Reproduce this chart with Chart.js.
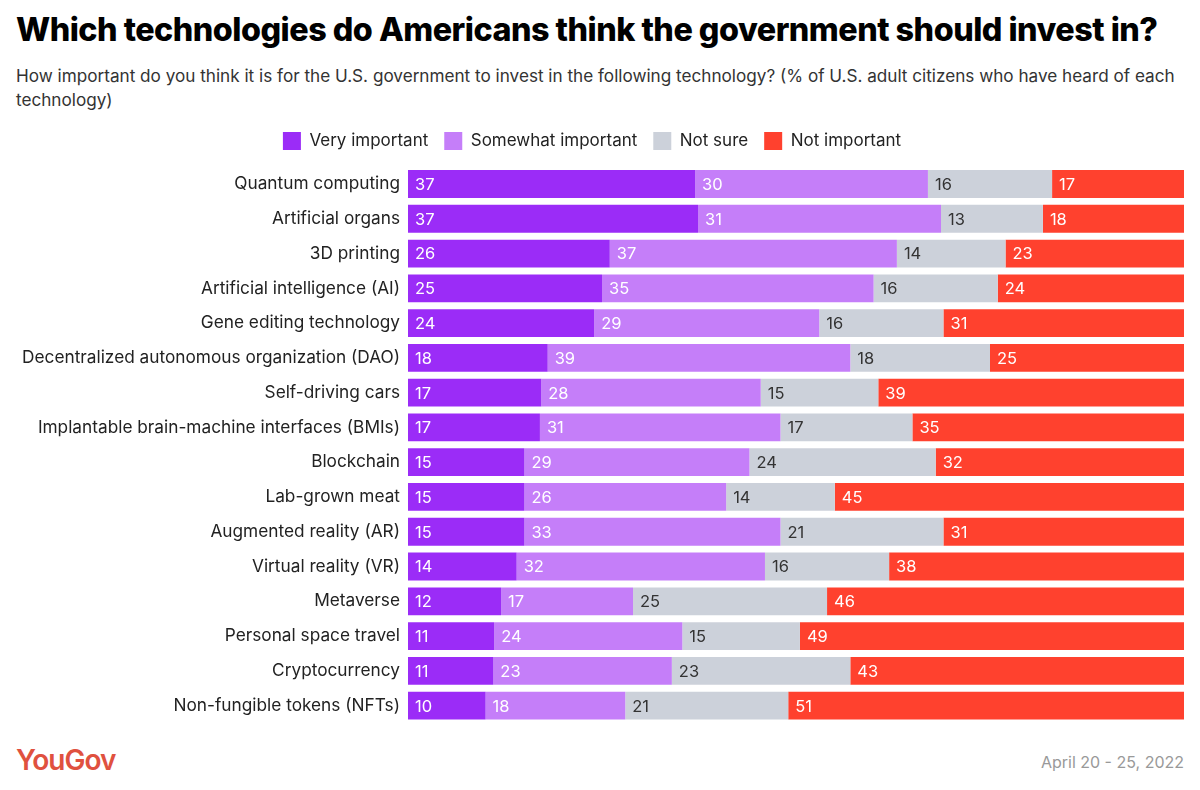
<!DOCTYPE html>
<html>
<head>
<meta charset="utf-8">
<script src="https://cdn.jsdelivr.net/npm/chart.js@4/dist/chart.umd.min.js"></script>
<style>
  html, body { margin: 0; padding: 0; background: #fff; }
  body { width: 1200px; height: 790px; position: relative; overflow: hidden; font-family: Inter, "Noto Sans", sans-serif; }
  h1 { position: absolute; left: 16px; top: 10px; margin: 0; font-size: 32.3px; font-weight: 800; color: #000; letter-spacing: -0.5px; }
  .sub { position: absolute; left: 16px; top: 64px; width: 1172px; margin: 0; font-size: 17.15px; line-height: 24px; color: #333; }
  .wrap { position: absolute; left: 0; top: 116px; width: 1200px; height: 607px; }
  .logo { position: absolute; left: 16px; top: 743px; font-size: 28px; font-weight: 600; color: #e0513f; letter-spacing: -1px; }
  .date { position: absolute; right: 16px; top: 752px; font-size: 16px; color: #999; }
</style>
</head>
<body>
<h1>Which technologies do Americans think the government should invest in?</h1>
<p class="sub">How important do you think it is for the U.S. government to invest in the following technology? (% of U.S. adult citizens who have heard of each technology)</p>
<div class="wrap"><canvas id="chart"></canvas></div>
<div class="logo">YouGov</div>
<div class="date">April 20 - 25, 2022</div>
<script>
const categories = [
  "Quantum computing",
  "Artificial organs",
  "3D printing",
  "Artificial intelligence (AI)",
  "Gene editing technology",
  "Decentralized autonomous organization (DAO)",
  "Self-driving cars",
  "Implantable brain-machine interfaces (BMIs)",
  "Blockchain",
  "Lab-grown meat",
  "Augmented reality (AR)",
  "Virtual reality (VR)",
  "Metaverse",
  "Personal space travel",
  "Cryptocurrency",
  "Non-fungible tokens (NFTs)"
];
const veryImportant     = [37, 37, 26, 25, 24, 18, 17, 17, 15, 15, 15, 14, 12, 11, 11, 10];
const somewhatImportant = [30, 31, 37, 35, 29, 39, 28, 31, 29, 26, 33, 32, 17, 24, 23, 18];
const notSure           = [16, 13, 14, 16, 16, 18, 15, 17, 24, 14, 21, 16, 25, 15, 23, 21];
const notImportant      = [17, 18, 23, 24, 31, 25, 39, 35, 32, 45, 31, 38, 46, 49, 43, 51];

const seriesNames  = ["Very important", "Somewhat important", "Not sure", "Not important"];
const seriesValues = [veryImportant, somewhatImportant, notSure, notImportant];
const seriesColors = ["#9b2cf7", "#c57ef9", "#ccd1da", "#ff412e"];
const labelColors  = ["#fff", "#fff", "#333", "#fff"];

// rounded shares don't always add to 100, bars still fill the row
const totals = categories.map((c, i) => seriesValues.reduce((s, arr) => s + arr[i], 0));

const FONT = "Inter, 'Noto Sans', sans-serif";

const segmentLabels = {
  id: "segmentLabels",
  afterDatasetsDraw(chart) {
    const ctx = chart.ctx;
    ctx.save();
    ctx.font = "16.5px " + FONT;
    ctx.textBaseline = "middle";
    ctx.textAlign = "left";
    chart.data.datasets.forEach((ds, di) => {
      const meta = chart.getDatasetMeta(di);
      if (meta.hidden) return;
      meta.data.forEach((bar, i) => {
        const left = Math.min(bar.x, bar.base);
        ctx.fillStyle = labelColors[di];
        ctx.fillText(String(ds.raw[i]), left + 7, bar.y + 1);
      });
    });
    ctx.restore();
  }
};

// a bit more room between the legend and the first bar
const legendGap = {
  id: "legendGap",
  beforeInit(chart) {
    const fit = chart.legend.fit;
    chart.legend.fit = function () {
      fit.call(this);
      this.height += 6.6;
    };
  }
};

new Chart(document.getElementById("chart"), {
  type: "bar",
  data: {
    labels: categories,
    datasets: seriesNames.map((name, k) => ({
      label: name,
      raw: seriesValues[k],
      data: seriesValues[k].map((v, i) => v / totals[i] * 100),
      backgroundColor: seriesColors[k],
      borderWidth: 0,
      barPercentage: 0.8,
      categoryPercentage: 1
    }))
  },
  options: {
    indexAxis: "y",
    responsive: true,
    maintainAspectRatio: false,
    animation: false,
    layout: { padding: { left: 0, right: 16, top: 0, bottom: 0 } },
    scales: {
      x: { stacked: true, min: 0, max: 100, display: false },
      y: {
        stacked: true,
        grid: { display: false, drawTicks: false },
        border: { display: false },
        ticks: { color: "#222", font: { family: FONT, size: 17.25 }, padding: 8 },
        afterFit(scale) {
          scale.width = 408;
          scale.paddingTop = 0;
          scale.paddingBottom = 0;
        }
      }
    },
    plugins: {
      legend: {
        position: "top",
        labels: {
          boxWidth: 18,
          boxHeight: 18,
          padding: 16,
          color: "#222",
          font: { family: FONT, size: 17 }
        }
      },
      tooltip: { enabled: false }
    }
  },
  plugins: [segmentLabels, legendGap]
});
</script>
</body>
</html>
